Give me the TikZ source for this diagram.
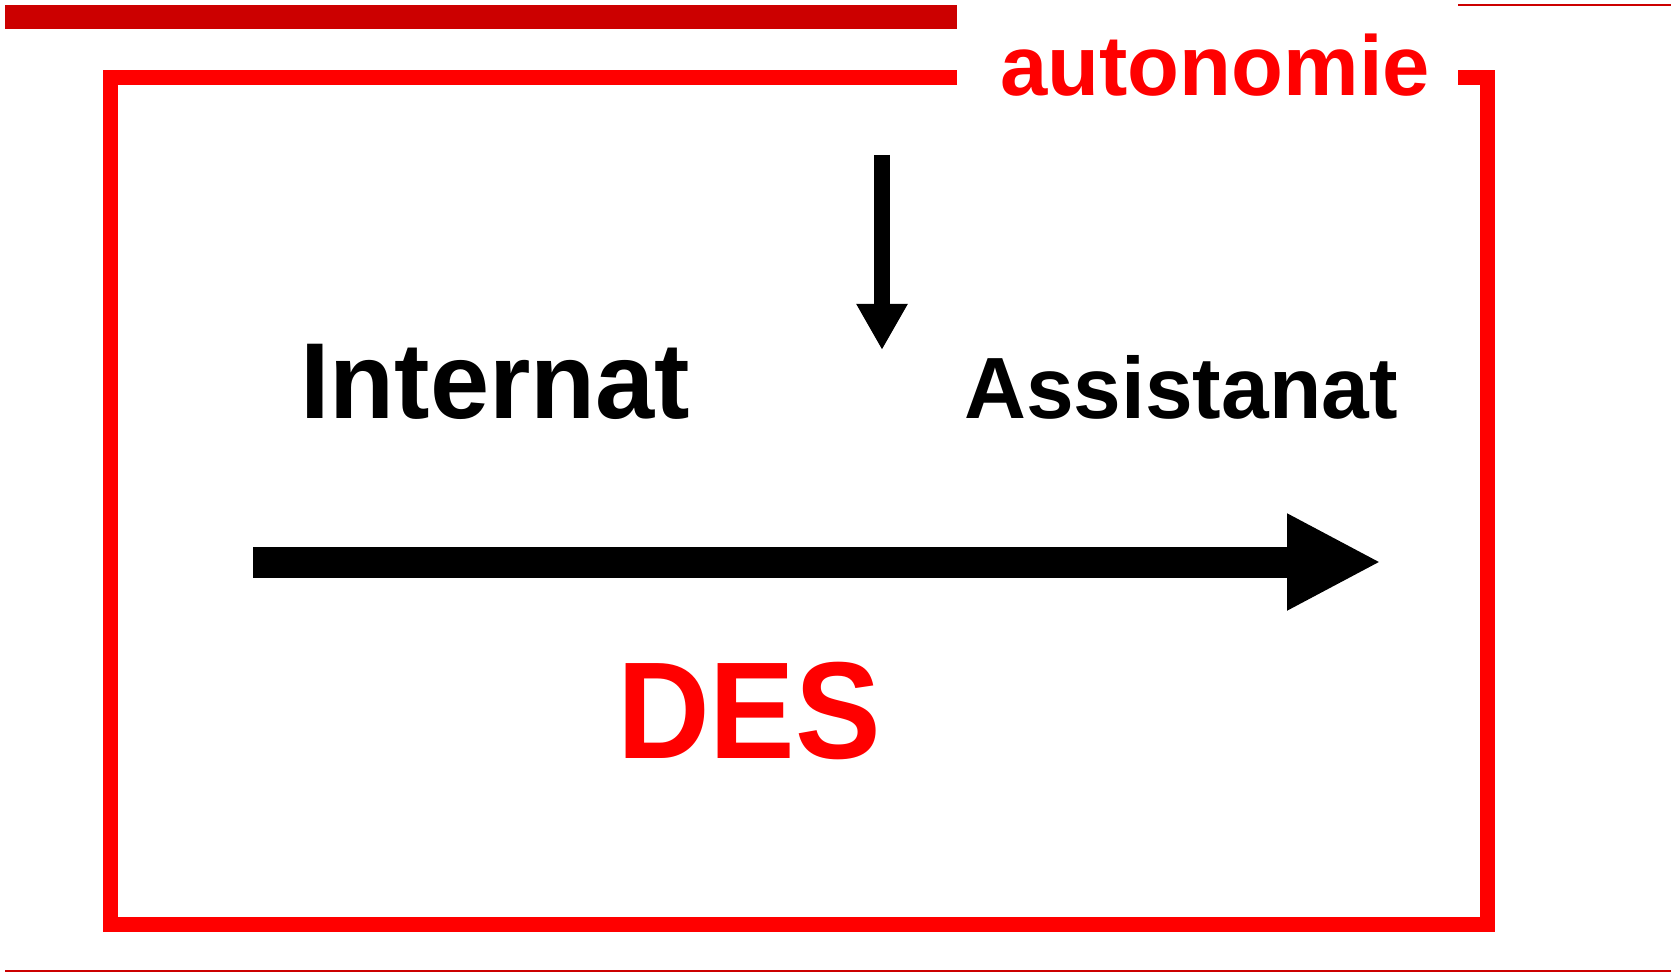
\documentclass[tikz,border=0pt]{standalone}
\usepackage{fontspec}
\setmainfont{Liberation Sans}
\usepackage{xcolor}
\usetikzlibrary{arrows.meta}
\definecolor{darkred}{HTML}{CC0000}
\definecolor{brightred}{HTML}{FF0000}

\begin{document}
\begin{tikzpicture}[x=1pt,y=-1pt,%
% common options for the words:
word/.style = {anchor=base west, inner sep=0, font=\bfseries},
% common options for the arrows:
bigarrow/.style = {line width=31pt, -{Triangle[length=94pt,width=90pt]}},
smallarrow/.style = {line width=16pt, -{Triangle[length=46pt,width=48pt]}}]
\useasboundingbox (0,0) rectangle (1671,973);

% bars and rules
\fill[darkred] (5,5) rectangle (957,29);
\draw[darkred, line width=2pt] (1458,5) -- (1671,5);
\draw[darkred, line width=2pt] (5,971) -- (1671,971);

% frame
\draw[brightred, line width=15pt, miter limit=10] (957,78) -- (110,78) -- (110,924) -- (1487,924) -- (1487,78) -- (1458,78);

% words
\node[word, color=brightred, font=\bfseries\fontsize{85}{90}\selectfont] (aut) at (1000,96) {autonomie};
\node[word, font=\bfseries\fontsize{108}{110}\selectfont] (int) at (300,419) {\scalebox{0.985}[1]{Internat}};
\node[word, font=\bfseries\fontsize{87}{90}\selectfont] (ass) at (964,419) {\scalebox{0.985}[1]{Assistanat}};
\node[word, color=brightred, font=\bfseries\fontsize{138}{140}\selectfont] (des) at (617,758) {\scalebox{0.93}[1]{DES}};

% arrows
\coordinate (dtop) at (882,155);
\coordinate (dtip) at (882,350);
\draw[smallarrow] (dtop) to (dtip);

\coordinate (astart) at (253,562);
\coordinate (aend) at (1381,562);
\draw[bigarrow] (astart) to (aend);
\end{tikzpicture}
\end{document}
